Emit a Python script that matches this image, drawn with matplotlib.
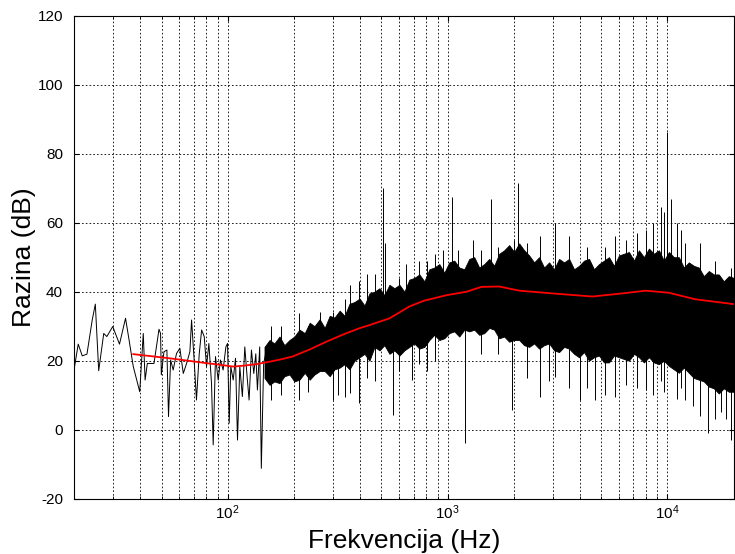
import numpy as np
import matplotlib.pyplot as plt

plt.rcParams['font.family'] = ['Liberation Sans', 'DejaVu Sans']
plt.rcParams['mathtext.default'] = 'regular'
plt.rcParams['axes.unicode_minus'] = False

# low frequency part of the spectrum, read point by point (Hz, dB)
f_low = [20, 20.9, 21.8, 22.9, 24.2, 25.0, 25.9, 27.3, 28.2, 30.0, 32.2, 34.3, 35.6, 37.2,
         39.8, 41.3, 42.1, 43.1, 46.2, 48.7, 49.5, 49.9, 51.3, 52.9, 53.8, 55.0,
         56.5, 58.5, 60.6, 62.8, 65.0, 67.3, 68.5, 70.2, 72.1, 74.2, 76.1, 78.2, 80.1,
         82.1, 84.4, 85.9, 88.0, 90.5, 92.7, 95.3, 98.1, 99.8, 101.6, 103.3, 105.9,
         108.5, 110.8, 113.5, 116.6, 119.6, 122.5, 125.1, 128.2, 131.4, 134.2, 136.5,
         139.8, 142.2, 145.7, 149.8, 153.6]
db_low = [17.3, 24.8, 21.4, 21.9, 31.8, 36.4, 17.1, 27.9, 27.0, 29.9, 24.8, 32.3, 26.0, 18.3,
          11.0, 27.9, 14.4, 19.2, 19.2, 29.1, 27.9, 15.9, 22.6, 23.1, 3.8, 20.2,
          17.3, 22.1, 23.6, 16.3, 19.2, 22.6, 31.8, 21.2, 8.6, 21.9, 28.9, 27.0, 18.3,
          25.0, 13.4, -4.4, 21.2, 14.4, 20.2, 17.3, 24.0, 25.0, 1.9, 18.3, 14.4,
          20.7, -3.0, 18.3, 9.6, 24.0, 15.4, 8.6, 23.1, 16.3, 22.0, 11.5,
          24.0, -11.2, 19.2, 23.0, 14.4]

# dense part: ragged upper / lower edge of the black band (Hz, dB)
f_band = [147, 155, 163, 172, 181, 191, 201, 212, 224, 236,
          248, 262, 276, 291, 306, 323, 340, 358, 377, 398,
          419, 441, 465, 490, 516, 544, 573, 604, 636, 670,
          706, 744, 784, 826, 870, 917, 966, 1018, 1073, 1130,
          1191, 1255, 1322, 1393, 1468, 1547, 1629, 1717, 1809, 1906,
          2008, 2116, 2229, 2349, 2475, 2608, 2748, 2895, 3051, 3214,
          3387, 3569, 3760, 3962, 4174, 4398, 4634, 4883, 5144, 5420,
          5711, 6018, 6340, 6681, 7039, 7417, 7814, 8234, 8675, 9141,
          9631, 10148, 10692, 11266, 11870, 12507, 13178, 13885, 14630, 15415,
          16242, 17114, 18031, 19000, 20018]
band_top = [24, 26, 25, 27, 24.5, 26, 27, 29, 28, 31,
            30, 32, 29.5, 33, 32.5, 34.5, 33, 36.5, 37, 38,
            36, 39.5, 40, 41, 39, 42, 41, 42, 40, 43.5,
            44, 45, 43, 46.5, 47, 48, 45.5, 48.5, 49, 47,
            46.5, 49.5, 50, 47, 48, 49.5, 47.5, 51, 52, 53.5,
            51.5, 54, 52, 50.5, 48.5, 50, 47, 48.5, 46.5, 49.5,
            48.5, 49.5, 46.5, 47.5, 49, 49.5, 46.5, 48, 49, 50,
            47.5, 50.5, 51, 51.5, 49, 52, 50, 52.5, 51, 52,
            49, 51.5, 50, 50, 47, 48.5, 47.5, 47, 44.5, 46,
            45, 45, 43, 44.5, 44]
band_bot = [15, 13, 14, 13.5, 15.5, 16, 14, 14.5, 16.5, 14.5,
            16, 17, 17, 15.5, 17.5, 18, 19, 17.5, 20, 21,
            22, 20, 24, 23, 24.5, 22, 23, 21.5, 23, 24,
            25, 23.5, 24, 26, 27.5, 26, 26.5, 28, 28.5, 27,
            29, 28.5, 29, 27.5, 28, 29.5, 29, 26.5, 27, 25.5,
            26, 26, 24.5, 24, 25, 23.5, 24.5, 25, 23, 22.5,
            24, 23.5, 22, 21, 22.5, 20, 21, 21.5, 19.5, 19.5,
            21.5, 21, 20.5, 20, 22, 21, 19.5, 21, 19.5, 19,
            20, 18.5, 17.5, 16.5, 18, 16.5, 15, 14.5, 14, 12.5,
            12, 10.5, 12, 11, 11]

# spikes above the band (Hz, base dB, peak dB)
up_f = [158, 212, 262, 300, 340, 360, 397, 430, 470, 509, 521, 600, 650, 740, 810, 880,
        950, 1046, 1120, 1310, 1420, 1570, 1700, 2000, 2100, 2300, 2620, 3090, 3550, 4300,
        5200, 5800, 6500, 7300, 7960, 8600, 9300, 9640, 9980, 10400, 11000, 11500, 12000,
        14000, 16500, 19400, 20000]
up_base = [20, 22, 24, 26, 28, 28, 30, 30, 32, 32, 32, 34, 34, 36, 38, 38,
           38, 40, 40, 40, 40, 40, 40, 40, 40, 40, 40, 40, 40, 38,
           38, 38, 40, 40, 40, 40, 40, 40, 40, 40, 39, 38, 38,
           37, 36, 36, 36]
up_top = [28, 33.8, 34, 34, 38, 42, 43, 45, 45, 70, 54, 44, 48, 49, 49, 51,
          52, 67.5, 52, 55, 52, 67, 53, 55, 71.4, 54, 56, 60, 56, 53,
          53, 56, 55, 57, 58, 60, 64.6, 63, 86.4, 67, 60, 58, 54,
          54, 49, 47, 62.7]

# spikes below the band (Hz, lowest dB); they start from inside the band
down_f = [158, 175, 212, 232, 300, 318, 340, 360, 397, 430, 470, 566, 600, 690, 740, 810,
          880, 1200, 1420, 1700, 1970, 2300, 2620, 2900, 3090, 3550, 3980, 4300, 4690, 5200,
          5800, 6500, 7300, 7960, 8600, 9300, 9640, 11000, 11500, 12000, 13000, 14000,
          15300, 16500, 17500, 18500, 19400, 20000]
down_bot = [8.6, 10, 8.6, 11, 8.6, 10, 9.6, 10.6, 7.7, 15, 14, 4.3, 17, 14.4, 19, 17,
            20, -3.9, 22, 22, 5.7, 15, 9.6, 14, 15.4, 12, 8.6, 12, 8.6, 10,
            9.6, 13, 12, 11.5, 10, 14, 11, 9, 12, 8.6, 7, 4,
            -1, 3, 5, 3, -3, -2]

# smoothed curve (Hz, dB)
f_smooth = [37.2, 45, 56, 66, 77.7, 90, 106, 120, 135, 155, 175, 197, 235, 281, 335, 397,
            441, 545, 670, 782, 992, 1222, 1427, 1718, 2120, 3000, 4554, 6233, 7960,
            10140, 13400, 20000]
db_smooth = [21.9, 21.3, 20.6, 20.0, 19.4, 18.9, 18.3, 18.6, 19.0, 19.7, 20.4, 21.2, 23.2, 25.5,
             27.6, 29.4, 30.3, 32.3, 35.7, 37.4, 39.0, 40.0, 41.4, 41.5, 40.3, 39.5, 38.6,
             39.5, 40.3, 39.7, 37.8, 36.4]

fig = plt.figure(figsize=(7.35, 5.54), dpi=100)
ax = fig.add_axes([0.1007, 0.0998, 0.8975, 0.8719])

ax.fill_between(f_band, band_bot, band_top, color='black', lw=0.6)
ax.vlines(up_f, up_base, up_top, color='black', lw=0.7)
ax.vlines(down_f, 30, down_bot, color='black', lw=0.7)
ax.plot(f_low, db_low, color='black', lw=0.7)
ax.plot(f_smooth, db_smooth, color='red', lw=1.3)

ax.set_xscale('log')
ax.set_xlim(20, 20000)
ax.set_ylim(-20, 120)
ax.set_yticks(np.arange(-20, 121, 20))

ax.grid(True, which='both', axis='x', color='black', linestyle=(0, (2, 2.5)), lw=0.6)
ax.grid(True, which='major', axis='y', color='black', linestyle=(0, (2, 2.5)), lw=0.6)
ax.tick_params(which='both', direction='in', top=True, right=True, labelsize=11)
ax.tick_params(axis='y', pad=8)
ax.tick_params(which='minor', labelbottom=False)
for s in ax.spines.values():
    s.set_linewidth(0.8)

ax.set_xlabel('Frekvencija (Hz)', fontsize=19, labelpad=5)
ax.set_ylabel('Razina (dB)', fontsize=19, labelpad=1)

fig.savefig('out.png', dpi=100)
